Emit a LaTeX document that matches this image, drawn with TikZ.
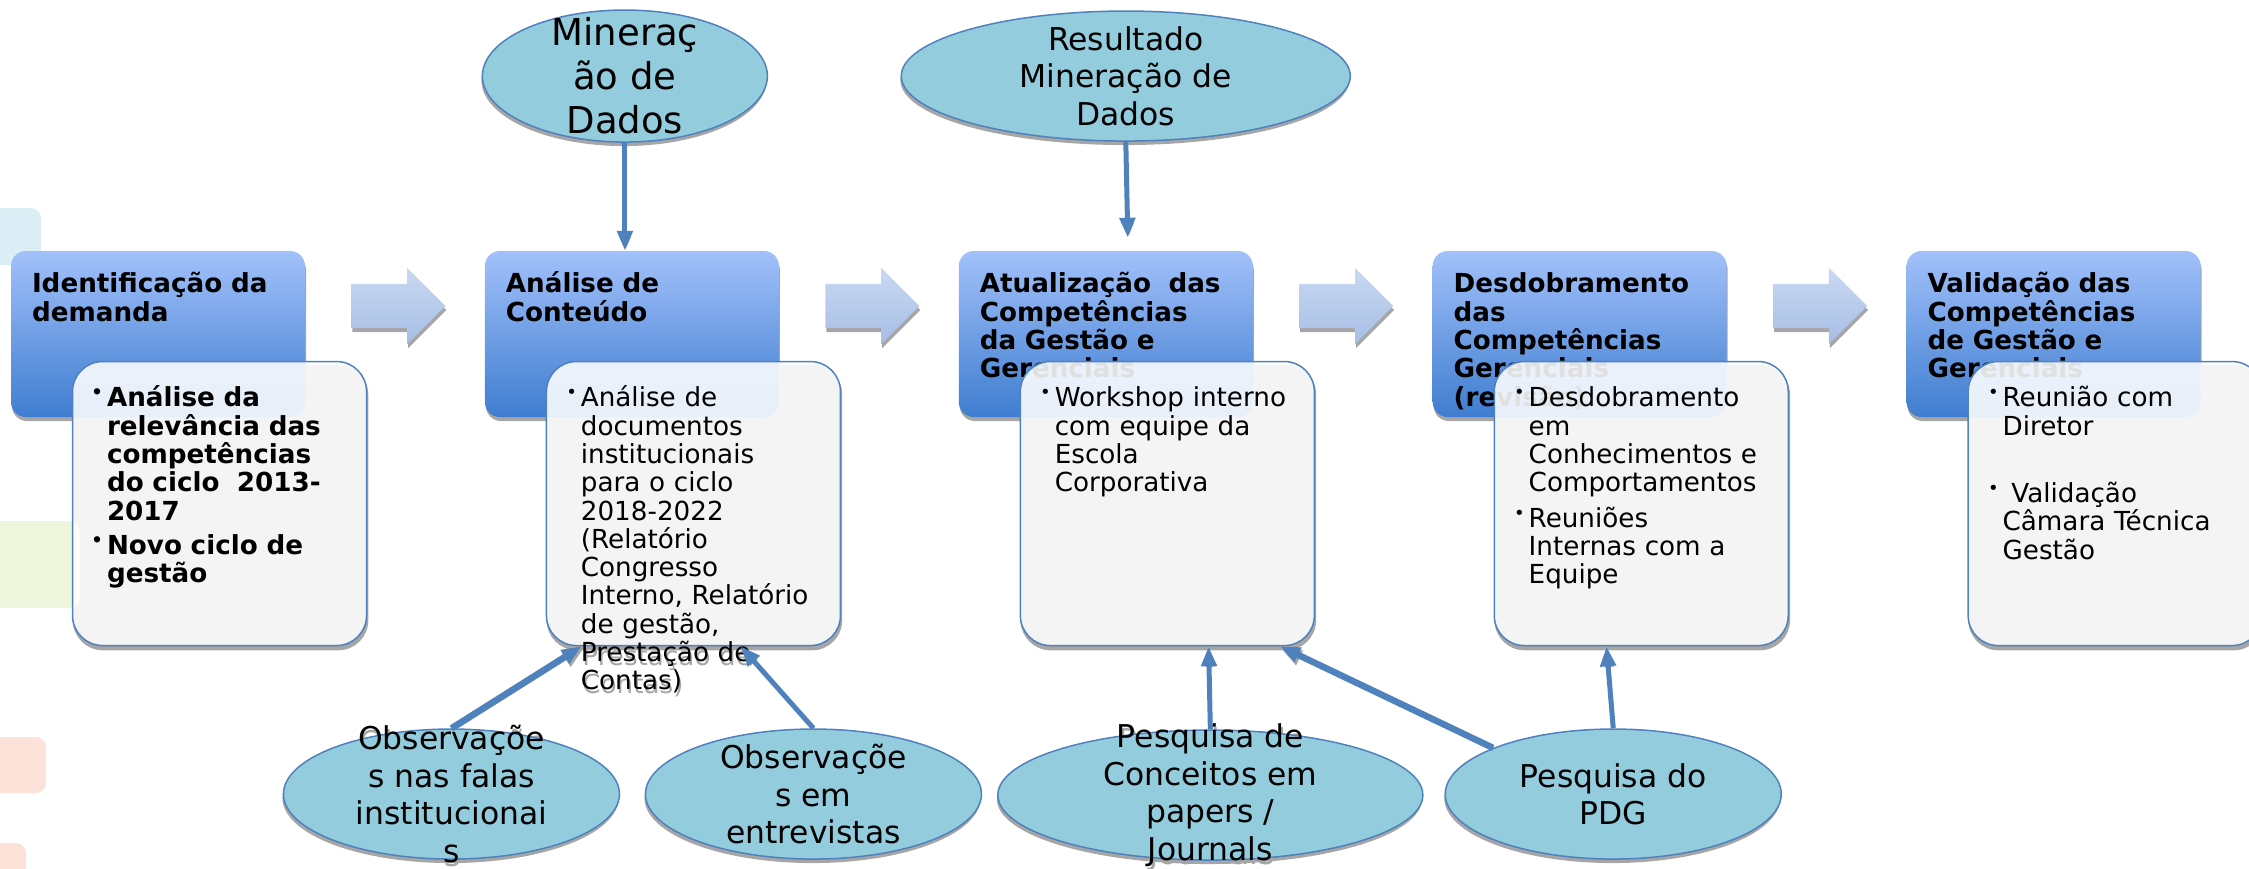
\documentclass[tikz,border=0pt]{standalone}
\usepackage{fontspec}
\setmainfont{DejaVu Sans}
\usepackage{graphicx}
\usepackage{tikz}
\usetikzlibrary{arrows.meta, positioning, shapes, shadows, backgrounds}

\definecolor{boxtop}{HTML}{A2C1FA}
\definecolor{boxbottom}{HTML}{3F7DD0}
\definecolor{ellfill}{HTML}{93CDDD}
\definecolor{edgeblue}{HTML}{4F81BD}
\definecolor{chevtop}{HTML}{C9D9F3}
\definecolor{chevbottom}{HTML}{A6BDE4}
\definecolor{shadowgray}{HTML}{A6A6A6}
\definecolor{fadeblue}{HTML}{DCEEF5}
\definecolor{fadegreen}{HTML}{EEF5DD}
\definecolor{fadepink}{HTML}{FDE2DA}

\newcommand{\bul}{\leavevmode\llap{\raisebox{8pt}{\fontsize{18}{18}\selectfont •}\hspace{4pt}}}

\begin{document}
\begin{tikzpicture}[x=1pt, y=-1pt, node distance=179.5pt,
    every node/.style={inner sep=0pt, font=\fontsize{26.2}{28.3}\selectfont}]
  \tikzset{stepbox/.style={rectangle, rounded corners=15pt, minimum width=294pt, minimum height=166pt,
      top color=boxtop, bottom color=boxbottom,
      drop shadow={shadow xshift=1pt, shadow yshift=-4pt, fill=shadowgray, opacity=1}},
    steptext/.style={anchor=base west, text width=270pt, align=left, font=\bfseries\fontsize{26.2}{28.3}\selectfont},
    notebox/.style={rectangle, rounded corners=30pt, minimum width=294pt, minimum height=284pt,
      draw=edgeblue, line width=1.5pt, fill=white, fill opacity=0.88, anchor=north west},
    notetext/.style={anchor=base west, text width=250pt, align=left},
    chevron/.style={single arrow, single arrow head extend=16pt, minimum width=76pt, minimum height=94pt,
      inner ysep=22pt, top color=chevtop, bottom color=chevbottom,
      drop shadow={shadow xshift=1pt, shadow yshift=-4pt, fill=shadowgray, opacity=1}},
    ellnode/.style={ellipse, minimum width=336pt, minimum height=130pt, fill=ellfill, draw=edgeblue, line width=1.5pt,
      drop shadow={shadow xshift=-1pt, shadow yshift=-4pt, fill=shadowgray, opacity=1}},
    elltext/.style={align=center, font=\fontsize{31.4}{37.5}\selectfont},
    conn/.style={draw=edgeblue, line width=5pt, -{Triangle[length=20pt,width=15pt]},
      preaction={draw=shadowgray, transform canvas={xshift=1.5pt,yshift=-3pt}}}}
  \useasboundingbox (0,0) rectangle (2249,868);
  % faded shapes at the left edge
  \fill[fadeblue, rounded corners=10pt] (-30,208) rectangle (41,265);
  \fill[fadegreen, rounded corners=10pt] (-30,521) rectangle (80,608);
  \fill[fadepink, rounded corners=10pt] (-30,737) rectangle (46,793);
  \fill[fadepink, rounded corners=10pt] (-30,843) rectangle (26,900);
  % steps
  \node[stepbox] (b1) at (158,334) {};
  \node[stepbox, right=of b1] (b2) {};
  \node[stepbox, right=of b2] (b3) {};
  \node[stepbox, right=of b3] (b4) {};
  \node[stepbox, right=of b4] (b5) {};
  \node[steptext] at ([xshift=21pt,yshift=-42pt]b1.north west) {Identificação da\\demanda};
  \node[steptext] at ([xshift=21pt,yshift=-42pt]b2.north west) {Análise de\\Conteúdo};
  \node[steptext] at ([xshift=21pt,yshift=-42pt]b3.north west) {Atualização~~das\\Competências\\da Gestão e\\Gerenciais};
  \node[steptext] at ([xshift=21pt,yshift=-42pt]b4.north west) {Desdobramento\\das\\Competências\\Gerenciais\\(revisão)};
  \node[steptext] at ([xshift=21pt,yshift=-42pt]b5.north west) {Validação das\\Competências\\de Gestão e\\Gerenciais};
  % chevrons between the steps
  \node[chevron, right=46pt of b1, yshift=28pt] (c1) {};
  \node[chevron, right=46pt of b2, yshift=28pt] (c2) {};
  \node[chevron, right=46pt of b3, yshift=28pt] (c3) {};
  \node[chevron, right=46pt of b4, yshift=28pt] (c4) {};
  % notes under each step
  \node[notebox] (w1) at ([xshift=61pt,yshift=-110pt]b1.north west) {};
  \node[notebox] (w2) at ([xshift=61pt,yshift=-110pt]b2.north west) {};
  \node[notebox] (w3) at ([xshift=61pt,yshift=-110pt]b3.north west) {};
  \node[notebox] (w4) at ([xshift=61pt,yshift=-110pt]b4.north west) {};
  \node[notebox] (w5) at ([xshift=61pt,yshift=-110pt]b5.north west) {};
  \begin{pgfonlayer}{background}
    \foreach \w in {w1,w2,w3,w4,w5}
      \fill[shadowgray, rounded corners=30pt] ([xshift=1pt,yshift=-4pt]\w.north west) rectangle ([xshift=1pt,yshift=-4pt]\w.south east);
  \end{pgfonlayer}
  \node[notetext, font=\bfseries\fontsize{26.2}{28.3}\selectfont] at ([xshift=35pt,yshift=-46pt]w1.north west)
    {\bul Análise da\\relevância das\\competências\\do ciclo~~2013-\\2017\\[6pt]\bul Novo ciclo de\\gestão};
  \node[notetext] at ([xshift=35pt,yshift=-46pt]w2.north west)
    {\bul Análise de\\documentos\\institucionais\\para o ciclo\\2018-2022\\(Relatório\\Congresso\\Interno, Relatório\\de gestão,\\Prestação de\\Contas)};
  \node[notetext] at ([xshift=35pt,yshift=-46pt]w3.north west)
    {\bul Workshop interno\\com equipe da\\Escola\\Corporativa};
  \node[notetext] at ([xshift=35pt,yshift=-46pt]w4.north west)
    {\bul Desdobramento\\em\\Conhecimentos e\\Comportamentos\\[7pt]\bul Reuniões\\Internas com a\\Equipe};
  \node[notetext] at ([xshift=35pt,yshift=-46pt]w5.north west)
    {\bul Reunião com\\Diretor\\[39pt]\bul\ Validação\\Câmara Técnica\\Gestão};
  % sources
  \node[ellnode, minimum width=285pt, minimum height=132pt, above=108pt of b2, xshift=-7pt] (m1) {};
  \node[elltext, font=\fontsize{37}{44}\selectfont] at (m1) {Mineraç\\ão de\\Dados};
  \node[ellnode, minimum width=449pt, above=109pt of b3, xshift=20pt] (m2) {};
  \node[elltext] at (m2) {Resultado\\Mineração de\\Dados};
  \node[ellnode, below=82pt of w2, xshift=-242pt] (o1) {};
  \node[elltext] at (o1) {Observaçõe\\s nas falas\\institucionai\\s};
  \node[ellnode, below=82pt of w2, xshift=120pt] (o2) {};
  \node[elltext] at (o2) {Observaçõe\\s em\\entrevistas};
  \node[ellnode, minimum width=425pt, below=83pt of w3, xshift=43pt] (p1) {};
  \node[elltext] at (p1) {Pesquisa de\\Conceitos em\\papers /\\Journals};
  \node[ellnode, below=82pt of w4, xshift=-28pt] (p2) {};
  \node[elltext] at (p2) {Pesquisa do\\PDG};
  % shadows of the texts that run over their shapes
  \begin{pgfonlayer}{background}
    \node[notetext, text=shadowgray] at ([xshift=36.5pt,yshift=-50pt]w2.north west)
      {Análise de\\documentos\\institucionais\\para o ciclo\\2018-2022\\(Relatório\\Congresso\\Interno, Relatório\\de gestão,\\Prestação de\\Contas)};
    \node[elltext, text=shadowgray] at ([xshift=1.5pt,yshift=-4pt]o1) {Observaçõe\\s nas falas\\institucionai\\s};
    \node[elltext, text=shadowgray] at ([xshift=1.5pt,yshift=-4pt]p1) {Pesquisa de\\Conceitos em\\papers /\\Journals};
  \end{pgfonlayer}
  % connectors
  \draw[conn] (m1.south) -- ([xshift=-7pt]b2.north);
  \draw[conn] (m2.south) -- ([xshift=22pt,yshift=13pt]b3.north);
  \draw[conn, line width=6.5pt] (o1.north) -- ([xshift=36pt]w2.south west);
  \draw[conn] (o2.north) -- ([xshift=195pt]w2.south west);
  \draw[conn] (p1.north) -- ([xshift=189pt]w3.south west);
  \draw[conn, line width=6.5pt] (p2.159) -- ([xshift=-35pt]w3.south east);
  \draw[conn] (p2.north) -- ([xshift=113pt]w4.south west);
\end{tikzpicture}
\end{document}
